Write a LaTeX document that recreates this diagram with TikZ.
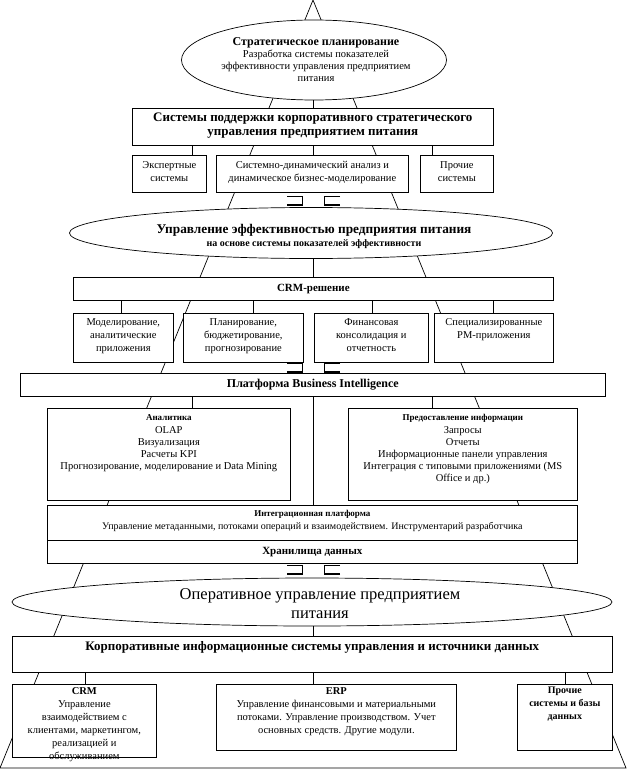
\documentclass[tikz,border=0pt]{standalone}
\usepackage{fontspec}
\setmainfont{Liberation Serif}
\usetikzlibrary{shapes.geometric}
\newcommand\fBody{\fontsize{10.5}{12}\selectfont}
\newcommand\fRow{\fontsize{10.5}{13}\selectfont}
\newcommand\fHead{\bfseries\fontsize{12}{14}\selectfont}
\newcommand\fBig{\bfseries\fontsize{13}{14}\selectfont}
\newcommand\fSmallB{\bfseries\fontsize{9}{11}\selectfont}
\newcommand\fOper{\fontsize{16.5}{19}\selectfont}
\tikzset{
  ln/.style={line width=0.7pt},
  box/.style={draw, ln, fill=white, inner sep=0pt, anchor=north west},
  ell/.style={draw, ln, fill=white, ellipse, inner sep=0pt},
  txt/.style={inner sep=0pt, align=center, anchor=north},
  ctxt/.style={inner sep=0pt, align=center, anchor=center},
  pics/brk/.style={code={
    \draw[ln] (-26,0) -- (-11,0) -- (-11,9);
    \draw[line width=1.5pt] (-26,9) -- (-10.5,9);
    \draw[ln] (27,0) -- (11,0) -- (11,9);
    \draw[line width=1.5pt] (27,9) -- (10.5,9);
  }}
}
\begin{document}
\begin{tikzpicture}[x=1pt,y=-1pt]
\useasboundingbox (0,0) rectangle (626,770);
% background pyramid
\coordinate (apex) at (313,0);
\coordinate (bl) at (0,768);
\coordinate (br) at (626,768);
\draw[ln] (apex) -- (bl) -- (br) -- cycle;

% columns for connectors
\coordinate (cA) at (192,0);
\coordinate (cB) at (313,0);
\coordinate (cC) at (432,0);
\coordinate (r1) at (121,0);
\coordinate (r2) at (253,0);
\coordinate (r3) at (372,0);
\coordinate (r4) at (493,0);
\coordinate (k1) at (85,0);
\coordinate (k3) at (565,0);

% level 1
\node[ell, minimum width=265pt, minimum height=80pt] (e1) at (314,60) {};
\node[txt, font=\fHead] (e1h) at (316,37) {Стратегическое планирование};
\node[txt, font=\fBody] (e1b) at (316,50) {Разработка системы показателей\\эффективности управления предприятием\\питания};

\node[box, minimum width=361pt, minimum height=37pt] (b1) at (132,108) {};
\node[txt, font=\fBig] (b1t) at ([yshift=-5pt]b1.north) {Системы поддержки корпоративного стратегического\\управления предприятием питания};

\node[box, minimum width=74pt, minimum height=37pt] (exp) at (132,155) {};
\node[box, minimum width=192pt, minimum height=37pt] (sda) at (216,155) {};
\node[box, minimum width=73pt, minimum height=37pt] (oth) at (420,155) {};
\node[txt, font=\fRow] (expt) at ([yshift=-6pt]exp.north) {Экспертные\\системы};
\node[txt, font=\fRow] (sdat) at ([yshift=-6pt]sda.north) {Системно-динамический анализ и\\динамическое бизнес-моделирование};
\node[txt, font=\fRow] (otht) at ([yshift=-6pt]oth.north) {Прочие\\системы};

\draw[ln] (e1.south -| cB) -- (b1.north -| cB);
\draw[ln] (b1.south -| cA) -- (exp.north -| cA);
\draw[ln] (b1.south -| cB) -- (sda.north -| cB);
\draw[ln] (b1.south -| cC) -- (oth.north -| cC);

\pic at (313,196) {brk};

% level 2
\node[ell, minimum width=483pt, minimum height=51pt] (e2) at (311,233) {};
\node[txt, font=\bfseries\fontsize{13.3}{15}\selectfont] (e2h) at (314,224) {Управление эффективностью предприятия питания};
\node[txt, font=\bfseries\fontsize{10}{11}\selectfont] (e2b) at (314,239) {на основе системы показателей эффективности};

\node[box, minimum width=480pt, minimum height=23pt] (crm) at (73,277) {};
\node[ctxt, font=\bfseries\fontsize{11}{13}\selectfont] (crmt) at (crm.center) {CRM-решение};
\draw[ln] (e2.south -| cB) -- (crm.north -| cB);

\node[box, minimum width=100pt, minimum height=49pt] (m1) at (73,313) {};
\node[box, minimum width=120pt, minimum height=49pt] (m2) at (183,313) {};
\node[box, minimum width=114pt, minimum height=49pt] (m3) at (314,313) {};
\node[box, minimum width=119pt, minimum height=49pt] (m4) at (434,313) {};
\node[txt, font=\fRow] (m1t) at ([yshift=-5pt]m1.north) {Моделирование,\\аналитические\\приложения};
\node[txt, font=\fRow] (m2t) at ([yshift=-5pt]m2.north) {Планирование,\\бюджетирование,\\прогнозирование};
\node[txt, font=\fRow] (m3t) at ([yshift=-5pt]m3.north) {Финансовая\\консолидация и\\отчетность};
\node[txt, font=\fRow] (m4t) at ([yshift=-5pt]m4.north) {Специализированные\\PM-приложения};
\draw[ln] (crm.south -| r1) -- (m1.north -| r1);
\draw[ln] (crm.south -| r2) -- (m2.north -| r2);
\draw[ln] (crm.south -| r3) -- (m3.north -| r3);
\draw[ln] (crm.south -| r4) -- (m4.north -| r4);

\pic at (313,363) {brk};

% BI platform
\node[box, minimum width=585pt, minimum height=23pt] (bi) at (20,373) {};
\node[ctxt, font=\bfseries\fontsize{12}{14}\selectfont] (bit) at (bi.center) {Платформа Business Intelligence};

\node[box, minimum width=243pt, minimum height=92pt] (an) at (47,408) {};
\node[box, minimum width=229pt, minimum height=92pt] (pr) at (348,408) {};
\node[txt, font=\fSmallB] (anh) at ([yshift=-6pt]an.north) {Аналитика};
\node[txt, font=\fBody] (anb) at ([yshift=-18pt]an.north) {OLAP\\Визуализация\\Расчеты KPI\\Прогнозирование, моделирование и Data Mining};
\node[txt, font=\fSmallB] (prh) at ([yshift=-6pt]pr.north) {Предоставление информации};
\node[txt, font=\fBody] (prb) at ([yshift=-18pt]pr.north) {Запросы\\Отчеты\\Информационные панели управления\\Интеграция с типовыми приложениями (MS\\Office и др.)};

\node[box, minimum width=530pt, minimum height=35pt] (ip) at (47,505) {};
\node[txt, font=\fSmallB] (iph) at ([yshift=-5pt]ip.north) {Интеграционная платформа};
\node[txt, font=\fontsize{10}{12}\selectfont] (ipb) at ([yshift=-17pt]ip.north) {Управление метаданными, потоками операций и взаимодействием. Инструментарий разработчика};
\node[box, minimum width=530pt, minimum height=23pt] (dw) at (47,540) {};
\node[ctxt, font=\bfseries\fontsize{11}{13}\selectfont] (dwt) at (dw.center) {Хранилища данных};

\draw[ln] (bi.south -| cA) -- (an.north -| cA);
\draw[ln] (bi.south -| cC) -- (pr.north -| cC);
\draw[ln] (bi.south -| cB) -- (ip.north -| cB);

\pic at (313,565) {brk};

% operational level
\node[ell, minimum width=600pt, minimum height=48pt] (e3) at (312,602) {};
\node[txt, font=\fOper] (e3t) at (320,588) {Оперативное управление предприятием\\питания};

\node[box, minimum width=600pt, minimum height=36pt] (kis) at (12,636) {};
\node[txt, font=\fBig] (kist) at ([yshift=-5pt]kis.north) {Корпоративные информационные системы управления и источники данных};
\draw[ln] (e3.south -| cB) -- (kis.north -| cB);

\node[box, minimum width=144pt, minimum height=73pt] (bcrm) at (12,684) {};
\node[box, minimum width=240pt, minimum height=66pt] (erp) at (216,684) {};
\node[box, minimum width=95pt, minimum height=66pt] (oths) at (517,684) {};
\node[txt, font=\fRow] (bcrmt) at ([yshift=-3pt]bcrm.north) {\textbf{CRM}\\Управление\\взаимодействием с\\клиентами, маркетингом,\\реализацией и\\обслуживанием};
\node[txt, font=\fRow] (erpt) at ([yshift=-3pt]erp.north) {\textbf{ERP}\\Управление финансовыми и материальными\\потоками. Управление производством. Учет\\основных средств. Другие модули.};
\node[txt, font=\bfseries\fontsize{10}{13}\selectfont] (othst) at ([yshift=-3pt]oths.north) {Прочие\\системы и базы\\данных};
\draw[ln] (kis.south -| k1) -- (bcrm.north -| k1);
\draw[ln] (kis.south -| cB) -- (erp.north -| cB);
\draw[ln] (kis.south -| k3) -- (oths.north -| k3);
\end{tikzpicture}
\end{document}
